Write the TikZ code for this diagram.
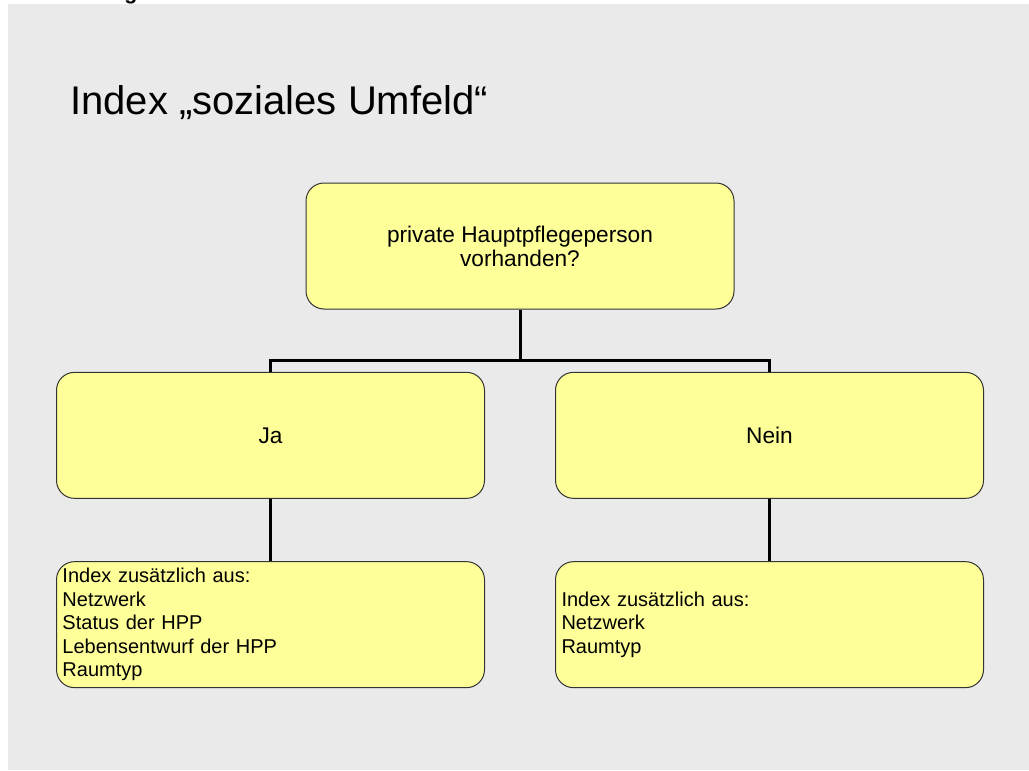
\documentclass[tikz,border=0pt]{standalone}
\usepackage{fontspec}
\setmainfont{Liberation Sans}

\definecolor{slidegray}{HTML}{EAEAEA}
\definecolor{boxyellow}{HTML}{FFFF99}
\definecolor{boxline}{HTML}{333333}

\begin{document}
\begin{tikzpicture}[
  x=0.75pt, y=-0.75pt,
  level distance=142pt,
  sibling distance=374.25pt,
  level 1/.style={edge from parent path={(\tikzparentnode.south) -- ++(0,-38.25pt) -| (\tikzchildnode.north)}},
  level 2/.style={edge from parent path={(\tikzparentnode.south) -- (\tikzchildnode.north)}},
  edge from parent/.style={draw, line width=2.25pt},
  box/.style={draw=boxline, line width=0.75pt, fill=boxyellow,
    rounded corners=13.5pt, minimum width=321pt, minimum height=94.5pt,
    align=center, font=\fontsize{17}{18}\selectfont},
  listbox/.style={box, text width=312pt, inner xsep=4.5pt, inner ysep=2pt,
    align=left, font=\fontsize{15}{17.6}\selectfont}]
  \useasboundingbox (0,0) rectangle (1029,771);
  \fill[slidegray] (8,4) rectangle (1029,770);
  % remains of the slide heading
  \node[anchor=base west, inner sep=0pt, font=\bfseries\fontsize{16}{18}\selectfont] (cut) at (124,-1) {g};
  \node[anchor=base west, inner sep=0pt, font=\fontsize{30}{36}\selectfont] (title) at (70,114) {Index „soziales Umfeld“};
  \node[box] (root) at (520,246) {private Hauptpflegeperson\\vorhanden?}
    child { node[box] (ja) {Ja}
      child { node[listbox] (jalist) {Index zusätzlich aus:\\Netzwerk\\Status der HPP\\Lebensentwurf der HPP\\Raumtyp}}
    }
    child { node[box] (nein) {Nein}
      child { node[listbox] (neinlist) {Index zusätzlich aus:\\Netzwerk\\Raumtyp}}
    };
\end{tikzpicture}
\end{document}
